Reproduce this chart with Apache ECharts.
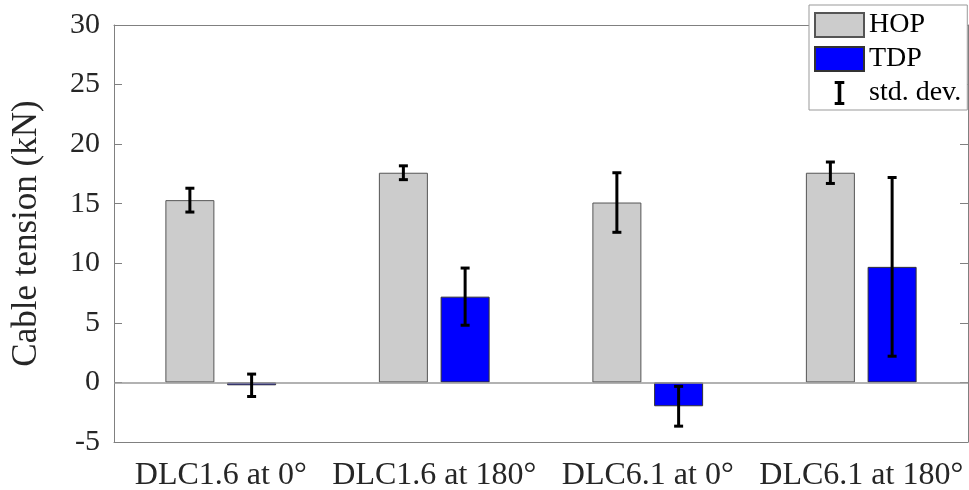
<!DOCTYPE html>
<html>
<head>
<meta charset="utf-8">
<script src="https://cdn.jsdelivr.net/npm/echarts@6/dist/echarts.min.js"></script>
<style>
  html, body { margin: 0; padding: 0; background: #fff; }
  #chart { width: 969px; height: 490px; }
</style>
</head>
<body>
<div id="chart"></div>
<script>
const categories = ['DLC1.6 at 0°', 'DLC1.6 at 180°', 'DLC6.1 at 0°', 'DLC6.1 at 180°'];
const hopMean = [15.3, 17.6, 15.1, 17.6];
const hopStd = [1.0, 0.58, 2.5, 0.9];
const tdpMean = [-0.24, 7.2, -2.0, 9.7];
const tdpStd = [0.94, 2.4, 1.67, 7.5];

const FONT = '"Liberation Serif", "Times New Roman", serif';
const TEXT = '#262626';
const AXIS = '#808080';
const BAR_W = 49;
const GAP_RATIO = 0.26;
const BAR_OFFSET = (BAR_W + BAR_W * GAP_RATIO) / 2;

// error bars: [category, low, high, group]
const errData = [];
hopMean.forEach((m, i) => errData.push([i, m - hopStd[i], m + hopStd[i], 0]));
tdpMean.forEach((m, i) => errData.push([i, m - tdpStd[i], m + tdpStd[i], 1]));

const chart = echarts.init(document.getElementById('chart'), null, { renderer: 'canvas' });

const renderErr = (params, api) => {
  const lo = api.coord([api.value(0), api.value(1)]);
  const hi = api.coord([api.value(0), api.value(2)]);
  const x = lo[0] + (api.value(3) === 0 ? -1 : 1) * BAR_OFFSET;
  const cap = 4.5;
  const style = { stroke: '#000', lineWidth: 3 };
  return {
    type: 'group',
    children: [
      { type: 'line', shape: { x1: x, y1: lo[1], x2: x, y2: hi[1] }, style },
      { type: 'line', shape: { x1: x - cap, y1: hi[1], x2: x + cap, y2: hi[1] }, style },
      { type: 'line', shape: { x1: x - cap, y1: lo[1], x2: x + cap, y2: lo[1] }, style }
    ]
  };
};

const option = {
  animation: false,
  backgroundColor: '#fff',
  grid: { left: 114, right: 1, top: 25, bottom: 48, outerBoundsMode: 'none' },
  legend: {
    orient: 'vertical',
    left: 809,
    top: 5,
    padding: [6, 6, 3, 5],
    itemGap: 6,
    itemWidth: 49,
    itemHeight: 24,
    backgroundColor: '#fff',
    borderColor: '#999',
    borderWidth: 1,
    selectedMode: false,
    textStyle: { fontFamily: FONT, fontSize: 28, color: '#000' },
    data: [
      { name: 'HOP', icon: 'rect' },
      { name: 'TDP', icon: 'rect' },
      { name: 'std. dev.', icon: 'path://M0,0h8v2.5h-2.5v15h2.5v2.5h-8v-2.5h2.5v-15h-2.5z' }
    ]
  },
  xAxis: [
    {
      type: 'category',
      data: categories,
      position: 'bottom',
      axisLine: { onZero: false, lineStyle: { color: AXIS, width: 1 } },
      axisTick: { inside: true, alignWithLabel: true, length: 8, lineStyle: { color: AXIS } },
      axisLabel: { interval: 0, fontFamily: FONT, fontSize: 32, color: TEXT, margin: 18 },
      splitLine: { show: false }
    },
    {
      type: 'category',
      data: categories,
      position: 'top',
      axisLine: { onZero: false, lineStyle: { color: AXIS, width: 1 } },
      axisTick: { inside: true, alignWithLabel: true, length: 8, lineStyle: { color: AXIS } },
      axisLabel: { show: false },
      splitLine: { show: false }
    }
  ],
  yAxis: [
    {
      type: 'value',
      min: -5,
      max: 30,
      interval: 5,
      position: 'left',
      name: 'Cable tension (kN)',
      nameLocation: 'middle',
      nameGap: 70,
      nameTextStyle: { fontFamily: FONT, fontSize: 35, color: TEXT },
      axisLine: { show: true, lineStyle: { color: AXIS, width: 1 } },
      axisTick: { show: true, inside: true, length: 8, lineStyle: { color: AXIS } },
      axisLabel: { fontFamily: FONT, fontSize: 30, color: TEXT, margin: 14 },
      splitLine: { show: false }
    },
    {
      type: 'value',
      min: -5,
      max: 30,
      interval: 5,
      position: 'right',
      axisLine: { show: true, lineStyle: { color: AXIS, width: 1 } },
      axisTick: { show: true, inside: true, length: 8, lineStyle: { color: AXIS } },
      axisLabel: { show: false },
      splitLine: { show: false }
    }
  ],
  series: [
    {
      name: 'HOP',
      type: 'bar',
      data: hopMean,
      barWidth: BAR_W,
      barGap: (GAP_RATIO * 100) + '%',
      itemStyle: { color: '#cccccc', borderColor: '#555', borderWidth: 1 },
      markLine: {
        silent: true,
        symbol: 'none',
        label: { show: false },
        lineStyle: { color: '#999', type: 'solid', width: 1.5 },
        data: [{ yAxis: 0 }]
      }
    },
    {
      name: 'TDP',
      type: 'bar',
      data: tdpMean,
      barWidth: BAR_W,
      itemStyle: { color: '#0000ff', borderColor: '#333', borderWidth: 1 }
    },
    {
      name: 'std. dev.',
      type: 'custom',
      data: errData,
      encode: { x: 0, y: [1, 2] },
      renderItem: renderErr,
      itemStyle: { color: '#000' },
      z: 5
    }
  ]
};

chart.setOption(option);
</script>
</body>
</html>
